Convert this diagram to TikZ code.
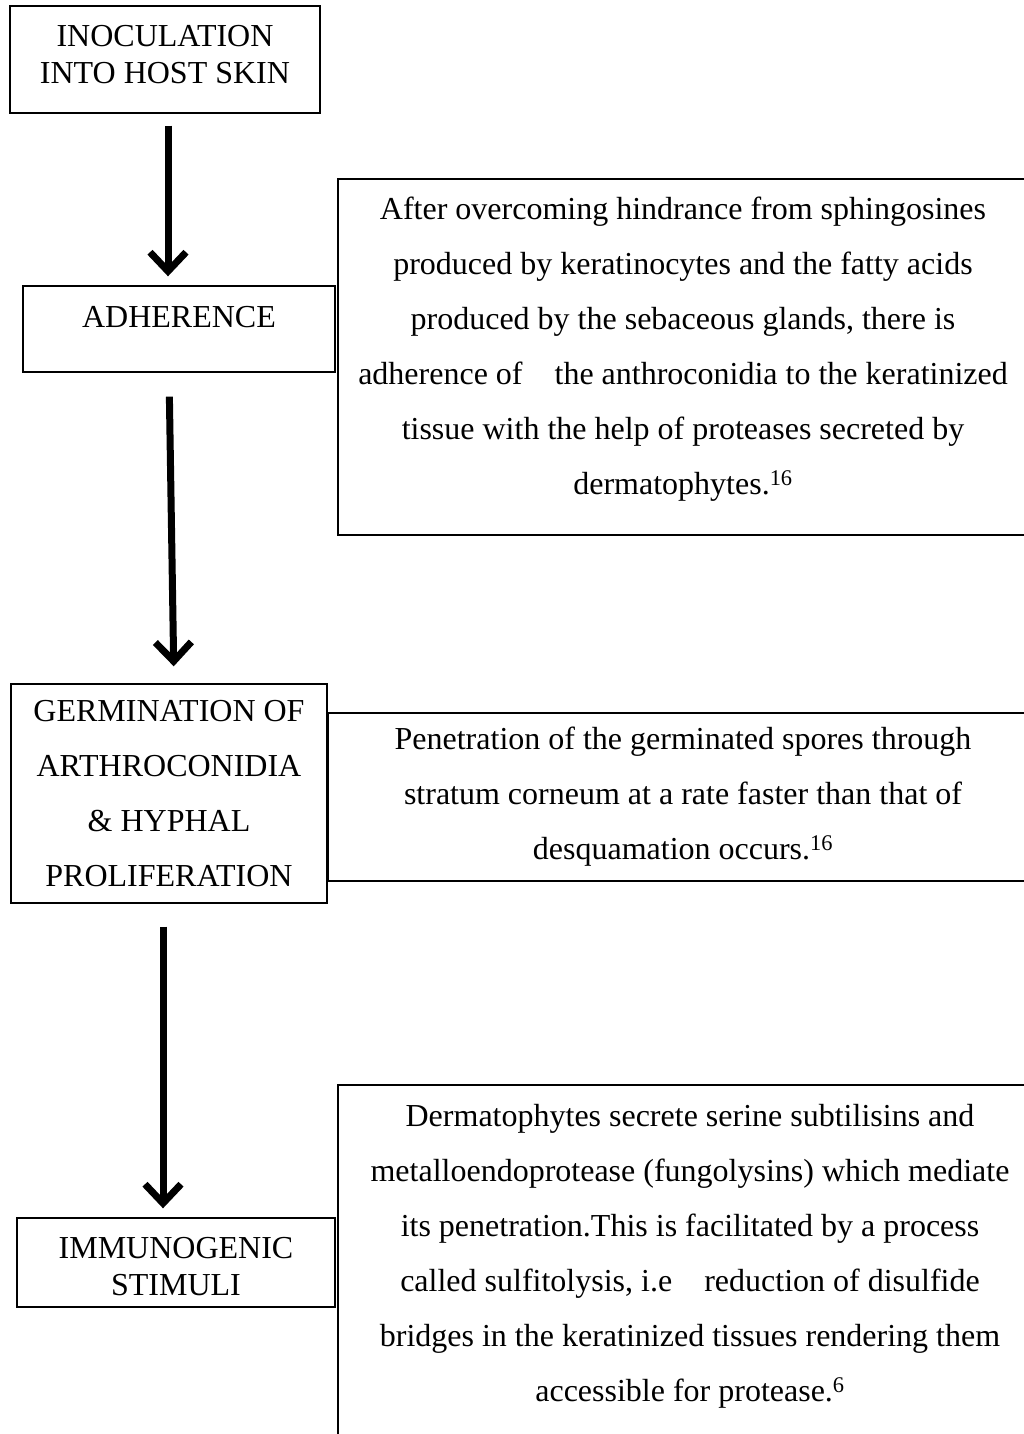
\documentclass[tikz,border=0pt]{standalone}
\usepackage{fontspec}
\setmainfont{Liberation Serif}
\usetikzlibrary{arrows.meta}

\tikzset{
    stage/.style={draw, line width=1.4pt, align=center, inner sep=0pt,
        font=\fontsize{32}{37}\selectfont},
    stagewide/.style={stage, font=\fontsize{32}{55}\selectfont},
    note/.style={draw, line width=1.4pt, align=center, inner sep=0pt,
        font=\fontsize{32}{55}\selectfont},
    flow/.style={line width=7pt, -{Straight Barb[length=19pt,width=36pt]}}
}

\begin{document}
\begin{tikzpicture}[x=1pt, y=-1pt]
    \useasboundingbox (0,0) rectangle (1024,1434);
    \clip (0,0) rectangle (1024,1434);

    % left column
    \node[stage, minimum width=310, minimum height=107, text depth=10pt] at (165, 59.5)(inoc){INOCULATION\\INTO HOST SKIN};
    \node[stage, minimum width=312, minimum height=86, text depth=24pt] at (179, 329)(adh){ADHERENCE};
    \node[stagewide, minimum width=316, minimum height=219] at (169, 793.5)(germ){GERMINATION OF\\ARTHROCONIDIA\\\& HYPHAL\\PROLIFERATION};
    \node[stage, minimum width=318, minimum height=89] at (176, 1262.5)(immu){\rule{0pt}{30pt}IMMUNOGENIC\\STIMULI};

    % right column
    \node[note, minimum width=690, minimum height=356, text depth=22pt] at (683, 357)(adhnote){After overcoming hindrance from sphingosines\\
        produced by keratinocytes and the fatty acids\\
        produced by the sebaceous glands, there is\\
        adherence of\quad the anthroconidia to the keratinized\\
        tissue with the help of proteases secreted by\\
        dermatophytes.\textsuperscript{16}};
    \node[note, minimum width=710, minimum height=168] at (683, 797)(germnote){Penetration of the germinated spores through\\
        stratum corneum at a rate faster than that of\\
        desquamation occurs.\textsuperscript{16}};
    \node[note, minimum width=704, minimum height=380, text depth=44pt] at (690, 1275)(immunote){Dermatophytes secrete serine subtilisins and\\
        metalloendoprotease (fungolysins) which mediate\\
        its penetration.This is facilitated by a process\\
        called sulfitolysis, i.e\quad reduction of disulfide\\
        bridges in the keratinized tissues rendering them\\
        accessible for protease.\textsuperscript{6}};

    % arrows
    \draw[flow, shorten <=12pt, shorten >=9pt] ([xshift=3pt]inoc.south) -- ([xshift=-11pt]adh.north);
    \draw[flow, shorten <=24pt, shorten >=17pt] ([xshift=-10pt]adh.south) -- ([xshift=5pt]germ.north);
    \draw[flow, shorten <=23pt, shorten >=9pt] ([xshift=-6pt]germ.south) -- ([xshift=-13pt]immu.north);
\end{tikzpicture}
\end{document}
